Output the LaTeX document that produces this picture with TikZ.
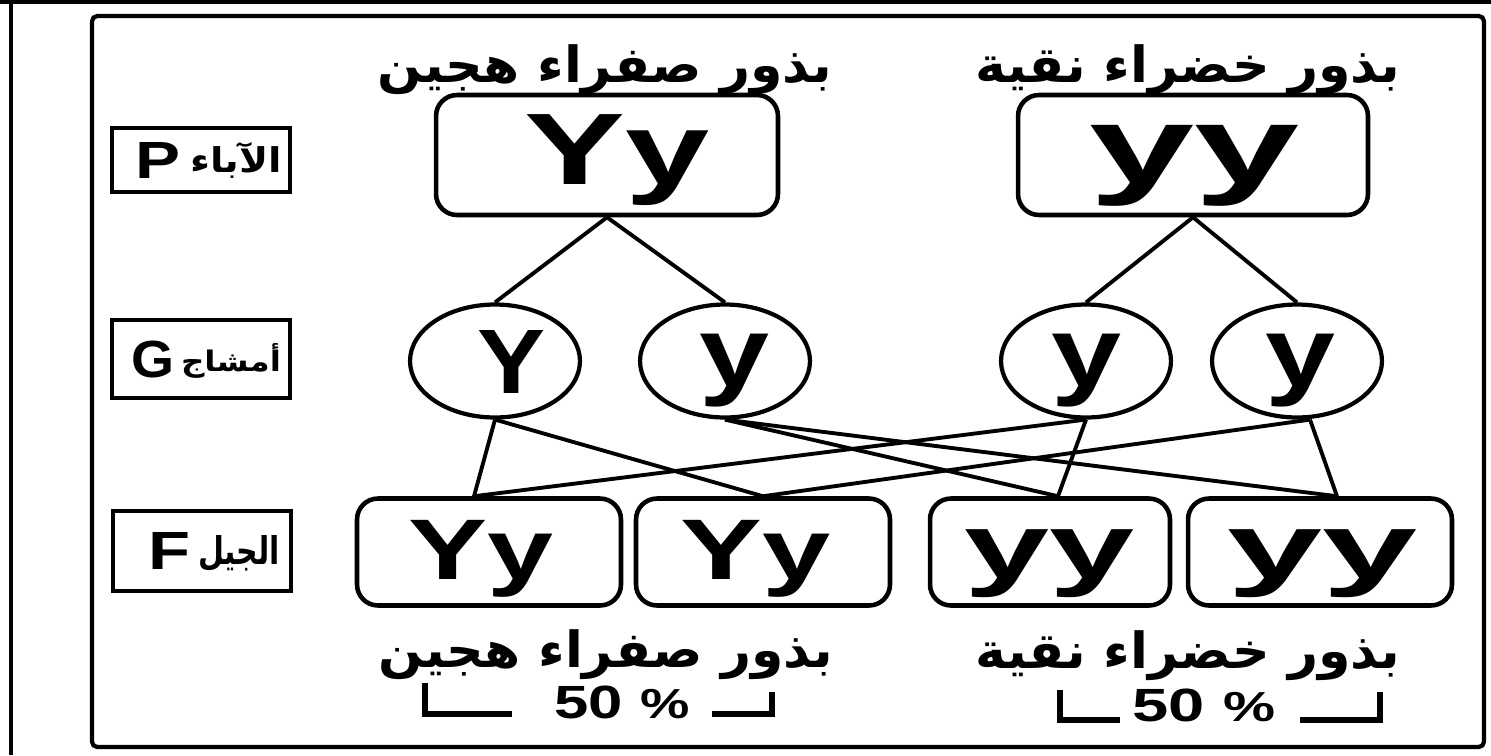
\documentclass[tikz,border=0pt]{standalone}
\usepackage{fontspec}
\usepackage{graphicx}
\usetikzlibrary{shapes.geometric}
\setmainfont{Liberation Sans}
\newfontfamily\arabicfont[Script=Arabic]{DejaVu Sans}
\TeXXeTstate=1
\newcommand{\fitbox}[3]{\resizebox*{#1}{#2}{#3}}
\newcommand{\ar}[1]{{\arabicfont\bfseries\beginR #1\endR}}
\begin{document}
\begin{tikzpicture}[x=0.02cm,y=-0.02cm,
  pbox/.style={draw,line width=2.6pt,rounded corners=0.42cm,inner sep=0pt},
  gam/.style={draw,ellipse,line width=2.4pt,inner sep=0pt,minimum width=3.4cm,minimum height=2.26cm},
  lbl/.style={draw,line width=2.6pt,inner sep=0pt,minimum width=3.56cm},
  conn/.style={line width=2.2pt},
  brk/.style={line width=3.4pt},
  ttl/.style={inner sep=0pt}]
\useasboundingbox (0,0) rectangle (1491,755);
\fill[white] (0,0) rectangle (1491,755);
% outer frame pieces
\draw[line width=1.8pt] (0,2) -- (1491,2);
\draw[line width=2.2pt] (11,0) -- (11,755);
% inner frame
\draw[line width=2.4pt,rounded corners=3pt] (92,16) rectangle (1484,747);

% level labels
\node[lbl,minimum height=1.28cm] (LP) at (201,160) {};
\node[ttl] (LPa) at (158,160) {\fitbox{0.9cm}{0.72cm}{\bfseries P}};
\node[ttl] (LPb) at (236,160) {\fitbox{1.84cm}{0.72cm}{\ar{الآباء}}};
\node[lbl,minimum height=1.56cm] (LG) at (201,359) {};
\node[ttl] (LGa) at (153,359) {\fitbox{0.86cm}{0.74cm}{\bfseries G}};
\node[ttl] (LGb) at (231,361) {\fitbox{2.0cm}{0.7cm}{\ar{أمشاج}}};
\node[lbl,minimum height=1.6cm] (LF) at (202,551) {};
\node[ttl] (LFa) at (169,551) {\fitbox{0.84cm}{0.74cm}{\bfseries F}};
\node[ttl] (LFb) at (239,553) {\fitbox{1.64cm}{0.72cm}{\ar{الجيل}}};

% titles
\node[ttl] (T1) at (605,70) {\fitbox{9.1cm}{1.0cm}{\ar{بذور صفراء هجين}}};
\node[ttl] (T2) at (1188,70) {\fitbox{8.5cm}{1.0cm}{\ar{بذور خضراء نقية}}};
\node[ttl] (T3) at (606,655) {\fitbox{9.1cm}{1.0cm}{\ar{بذور صفراء هجين}}};
\node[ttl] (T4) at (1188,656) {\fitbox{8.5cm}{1.0cm}{\ar{بذور خضراء نقية}}};

% parents
\node[pbox,minimum width=6.84cm,minimum height=2.4cm] (PA) at (607,155) {};
\node[ttl] (PAt) at (617,160) {\fitbox{3.7cm}{1.82cm}{\bfseries Yy}};
\node[pbox,minimum width=7.0cm,minimum height=2.4cm] (PB) at (1193,155) {};
\node[ttl] (PBt) at (1195,166) {\fitbox{4.2cm}{1.62cm}{\bfseries yy}};

% gametes
\node[gam] (G1) at (495,361) {};
\node[ttl] (G1t) at (511,362) {\fitbox{1.36cm}{1.26cm}{\bfseries Y}};
\node[gam] (G2) at (725,361) {};
\node[ttl] (G2t) at (735,371) {\fitbox{1.4cm}{1.46cm}{\bfseries y}};
\node[gam] (G3) at (1086,361) {};
\node[ttl] (G3t) at (1086,371) {\fitbox{1.4cm}{1.46cm}{\bfseries y}};
\node[gam] (G4) at (1297,361) {};
\node[ttl] (G4t) at (1300,371) {\fitbox{1.4cm}{1.46cm}{\bfseries y}};

% offspring
\node[pbox,minimum width=5.28cm,minimum height=2.14cm] (F1) at (489,552) {};
\node[ttl] (F1t) at (481,559) {\fitbox{2.9cm}{1.54cm}{\bfseries Yy}};
\node[pbox,minimum width=5.08cm,minimum height=2.14cm] (F2) at (763,552) {};
\node[ttl] (F2t) at (756,559) {\fitbox{3.0cm}{1.54cm}{\bfseries Yy}};
\node[pbox,minimum width=4.8cm,minimum height=2.14cm] (F3) at (1050,552) {};
\node[ttl] (F3t) at (1050,564) {\fitbox{3.4cm}{1.36cm}{\bfseries yy}};
\node[pbox,minimum width=5.28cm,minimum height=2.14cm] (F4) at (1320,552) {};
\node[ttl] (F4t) at (1323,564) {\fitbox{3.8cm}{1.36cm}{\bfseries yy}};

% percentages
\node[ttl] (PC1) at (622,702) {\fitbox{2.7cm}{0.66cm}{\bfseries 50 {\small\%}}};
\node[ttl] (PC2) at (1204,705) {\fitbox{2.85cm}{0.66cm}{\bfseries 50 {\small\%}}};
\draw[brk] (425,683) -- (425,714) -- (512,714);
\draw[brk] (712,714) -- (772,714) -- (772,692);
\draw[brk] (1060,690) -- (1060,720) -- (1120,720);
\draw[brk] (1300,720) -- (1380,720) -- (1380,692);

% attachment points
\coordinate (g1b) at (G1.south);
\coordinate (g2b) at (G2.south);
\coordinate (g3b) at (G3.south);
\coordinate (g4b) at ([xshift=0.26cm]G4.south);
\coordinate (f1t) at ([xshift=-0.3cm]F1.north);
\coordinate (f2t) at (F2.north);
\coordinate (f3t) at ([xshift=0.16cm]F3.north);
\coordinate (f4t) at ([xshift=0.34cm]F4.north);

% connectors
\draw[conn] (PA.south) -- (G1.north);
\draw[conn] (PA.south) -- (G2.north);
\draw[conn] (PB.south) -- (G3.north);
\draw[conn] (PB.south) -- (G4.north);
\draw[conn] (g1b) -- (f1t);
\draw[conn] (g1b) -- (f2t);
\draw[conn] (g2b) -- (f3t);
\draw[conn] (g2b) -- (f4t);
\draw[conn] (g3b) -- (f1t);
\draw[conn] (g3b) -- (f3t);
\draw[conn] (g4b) -- (f2t);
\draw[conn] (g4b) -- (f4t);
\end{tikzpicture}
\end{document}
